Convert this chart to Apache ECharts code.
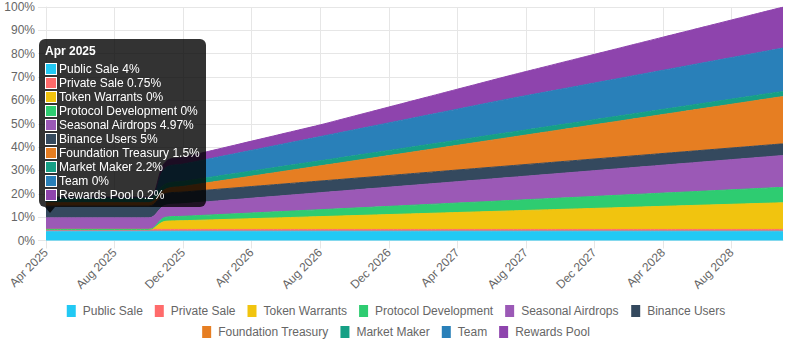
<!DOCTYPE html>
<html>
<head>
<meta charset="utf-8">
<script src="https://cdn.jsdelivr.net/npm/echarts/dist/echarts.min.js"></script>
<style>
html, body { margin: 0; padding: 0; background: #fff; }
#chart { width: 792px; height: 350px; }
</style>
</head>
<body>
<div id="chart"></div>
<script>
// monthly unlock schedule, cumulative % of supply
var months = ['Apr 2025','May 2025','Jun 2025','Jul 2025','Aug 2025','Sep 2025','Oct 2025','Nov 2025','Dec 2025',
    'Jan 2026','Feb 2026','Mar 2026','Apr 2026','May 2026','Jun 2026','Jul 2026','Aug 2026','Sep 2026','Oct 2026','Nov 2026','Dec 2026',
    'Jan 2027','Feb 2027','Mar 2027','Apr 2027','May 2027','Jun 2027','Jul 2027','Aug 2027','Sep 2027','Oct 2027','Nov 2027','Dec 2027',
    'Jan 2028','Feb 2028','Mar 2028','Apr 2028','May 2028','Jun 2028','Jul 2028','Aug 2028','Sep 2028','Oct 2028','Nov 2028'];

var publicSale = [4,4,4,4,4,4,4,4,4,4,4,4,4,4,4,4,4,4,4,4,4,4,4,4,4,4,4,4,4,4,4,4,4,4,4,4,4,4,4,4,4,4,4,4];
var privateSale = [0.75,0.75,0.75,0.75,0.75,0.75,0.75,0.75,0.75,0.75,0.75,0.75,0.75,0.75,0.75,0.75,0.75,0.75,0.75,0.75,0.75,0.75,
    0.75,0.75,0.75,0.75,0.75,0.75,0.75,0.75,0.75,0.75,0.75,0.75,0.75,0.75,0.75,0.75,0.75,0.75,0.75,0.75,0.75,0.75];
var tokenWarrants = [0,0,0,0,0,0,0,3.5,3.72,3.94,4.16,4.38,4.6,4.82,5.04,5.26,5.48,5.7,5.92,6.14,6.36,6.58,6.8,7.02,
    7.24,7.46,7.68,7.9,8.12,8.34,8.56,8.78,9.0,9.22,9.44,9.66,9.88,10.1,10.32,10.54,10.76,10.98,11.2,11.42];
var protocolDev = [0,0,0,0,0,0,0,1.75,1.89,2.02,2.16,2.29,2.43,2.56,2.7,2.83,2.97,3.1,3.24,3.37,3.51,3.64,3.78,3.91,
    4.05,4.18,4.32,4.45,4.59,4.72,4.86,4.99,5.13,5.26,5.4,5.53,5.67,5.8,5.94,6.07,6.21,6.34,6.48,6.61];
var seasonalAirdrops = [4.97,4.97,4.97,4.97,4.97,4.97,4.97,5.15,5.39,5.62,5.86,6.09,6.33,6.56,6.8,7.03,7.27,7.5,7.74,7.97,
    8.21,8.44,8.68,8.91,9.15,9.38,9.62,9.85,10.09,10.32,10.56,10.79,11.03,11.26,11.5,11.73,11.97,12.2,12.44,12.67,12.91,13.14,13.38,13.61];
var binanceUsers = [5,5,5,5,5,5,5,5,5,5,5,5,5,5,5,5,5,5,5,5,5,5,5,5,5,5,5,5,5,5,5,5,5,5,5,5,5,5,5,5,5,5,5,5];
var foundationTreasury = [1.5,1.5,1.5,1.5,1.5,1.5,1.5,1.9,2.41,2.92,3.43,3.94,4.45,4.96,5.47,5.98,6.49,7.0,7.51,8.02,8.53,
    9.04,9.55,10.06,10.57,11.08,11.59,12.1,12.61,13.12,13.63,14.14,14.65,15.16,15.67,16.18,16.69,17.2,17.71,18.22,18.73,19.24,19.75,20.26];
var marketMaker = [2.2,2.2,2.2,2.2,2.2,2.2,2.2,2.2,2.2,2.2,2.2,2.2,2.2,2.2,2.2,2.2,2.2,2.2,2.2,2.2,2.2,2.2,
    2.2,2.2,2.2,2.2,2.2,2.2,2.2,2.2,2.2,2.2,2.2,2.2,2.2,2.2,2.2,2.2,2.2,2.2,2.2,2.2,2.2,2.2];
var team = [0,0,0,0,0,0,0,7.0,7.37,7.74,8.11,8.48,8.85,9.22,9.59,9.96,10.33,10.7,11.07,11.44,11.81,12.18,12.55,12.92,
    13.29,13.66,14.03,14.4,14.66,14.92,15.18,15.44,15.7,15.96,16.22,16.48,16.74,17.0,17.26,17.52,17.78,18.04,18.3,18.56];
var rewardsPool = [0.2,0.2,0.2,0.2,0.2,0.2,0.2,2.6,2.87,3.14,3.41,3.68,3.95,4.22,4.49,4.76,5.03,5.47,5.91,6.35,6.79,
    7.23,7.67,8.11,8.55,8.99,9.43,9.87,10.35,10.83,11.31,11.79,12.27,12.75,13.23,13.71,14.19,14.67,15.15,15.63,16.11,16.59,17.07,17.55];

var names = ['Public Sale','Private Sale','Token Warrants','Protocol Development','Seasonal Airdrops',
    'Binance Users','Foundation Treasury','Market Maker','Team','Rewards Pool'];
var colors = ['#22c9f4','#ff6b6b','#f1c40f','#2ecc71','#9b59b6','#34495e','#e67e22','#16a085','#2980b9','#8e44ad'];
var yTicks = [0,10,20,30,40,50,60,70,80,90,100];

var dataList = [publicSale, privateSale, tokenWarrants, protocolDev, seasonalAirdrops,
    binanceUsers, foundationTreasury, marketMaker, team, rewardsPool];

var font = 'Liberation Sans, Arial, Helvetica, sans-serif';
var gridColor = '#e6e6e6';

var series = [];
for (var i = 0; i < names.length; i++) {
    series.push({
        name: names[i],
        type: 'line',
        stack: 'total',
        data: dataList[i],
        smooth: 0.4,
        symbol: 'none',
        lineStyle: { width: 1, color: colors[i] },
        itemStyle: { color: colors[i] },
        areaStyle: { color: colors[i], opacity: 1 },
        emphasis: { disabled: true }
    });
}

var caret = '<div style="position:absolute;left:6px;bottom:-6px;width:0;height:0;' +
    'border-left:5px solid transparent;border-right:5px solid transparent;border-top:6px solid rgba(0,0,0,0.8)"></div>';

// the legend is wrapped in two centred rows
function legendRow(items, top) {
    return {
        data: items,
        left: 'center',
        top: top,
        padding: 0,
        itemWidth: 9,
        itemHeight: 12,
        itemGap: 12,
        icon: 'rect',
        textStyle: { color: '#666', fontSize: 12, fontFamily: font, padding: [0, 0, 0, 2] }
    };
}

var myChart = echarts.init(document.getElementById('chart'), null, { renderer: 'svg' });
var option = {
    animation: false,
    color: colors,
    textStyle: { fontFamily: font },
    grid: { left: 46, right: 9, top: 7, height: 233.5, containLabel: false, outerBoundsMode: 'none' },
    tooltip: {
        trigger: 'axis',
        triggerOn: 'none',
        alwaysShowContent: true,
        transitionDuration: 0,
        axisPointer: { type: 'none' },
        backgroundColor: 'rgba(0,0,0,0.8)',
        borderWidth: 0,
        padding: 6,
        textStyle: { color: '#fff', fontSize: 12, fontFamily: font },
        extraCssText: 'border-radius:6px;box-shadow:none;',
        position: function () { return [39, 39]; },
        formatter: function (params) {
            var html = '<div style="font-weight:bold;line-height:12px;height:12px;margin-bottom:6px">' + params[0].name + '</div>';
            params.forEach(function (p, k) {
                html += '<div style="line-height:12px;height:12px;white-space:nowrap;margin-top:' + (k ? 2 : 0) + 'px">' +
                    '<span style="display:inline-block;box-sizing:border-box;width:12px;height:12px;border:1px solid #fff;' +
                    'background:' + colors[p.seriesIndex] + ';vertical-align:top;margin-right:2px"></span>' +
                    p.seriesName + ' ' + p.value + '%</div>';
            });
            return html + caret;
        }
    },
    legend: [legendRow(names.slice(0, 6), 305), legendRow(names.slice(6), 326)],
    xAxis: {
        type: 'category',
        boundaryGap: false,
        data: months,
        axisLine: { lineStyle: { color: gridColor } },
        axisTick: { show: true, interval: 3, length: 8, lineStyle: { color: gridColor } },
        axisLabel: { interval: 3, rotate: 45, margin: 10, color: '#666', fontSize: 12, fontFamily: font },
        splitLine: { show: true, interval: 3, lineStyle: { color: gridColor } }
    },
    yAxis: {
        type: 'value',
        min: yTicks[0],
        max: yTicks[yTicks.length - 1],
        interval: 10,
        axisLine: { show: true, lineStyle: { color: gridColor } },
        axisTick: { show: true, length: 8, lineStyle: { color: gridColor } },
        axisLabel: { margin: 11, color: '#666', fontSize: 12, fontFamily: font, formatter: '{value}%' },
        splitLine: { show: true, lineStyle: { color: gridColor } }
    },
    series: series
};
myChart.setOption(option);
myChart.dispatchAction({ type: 'showTip', seriesIndex: 0, dataIndex: 0 });
</script>
</body>
</html>
